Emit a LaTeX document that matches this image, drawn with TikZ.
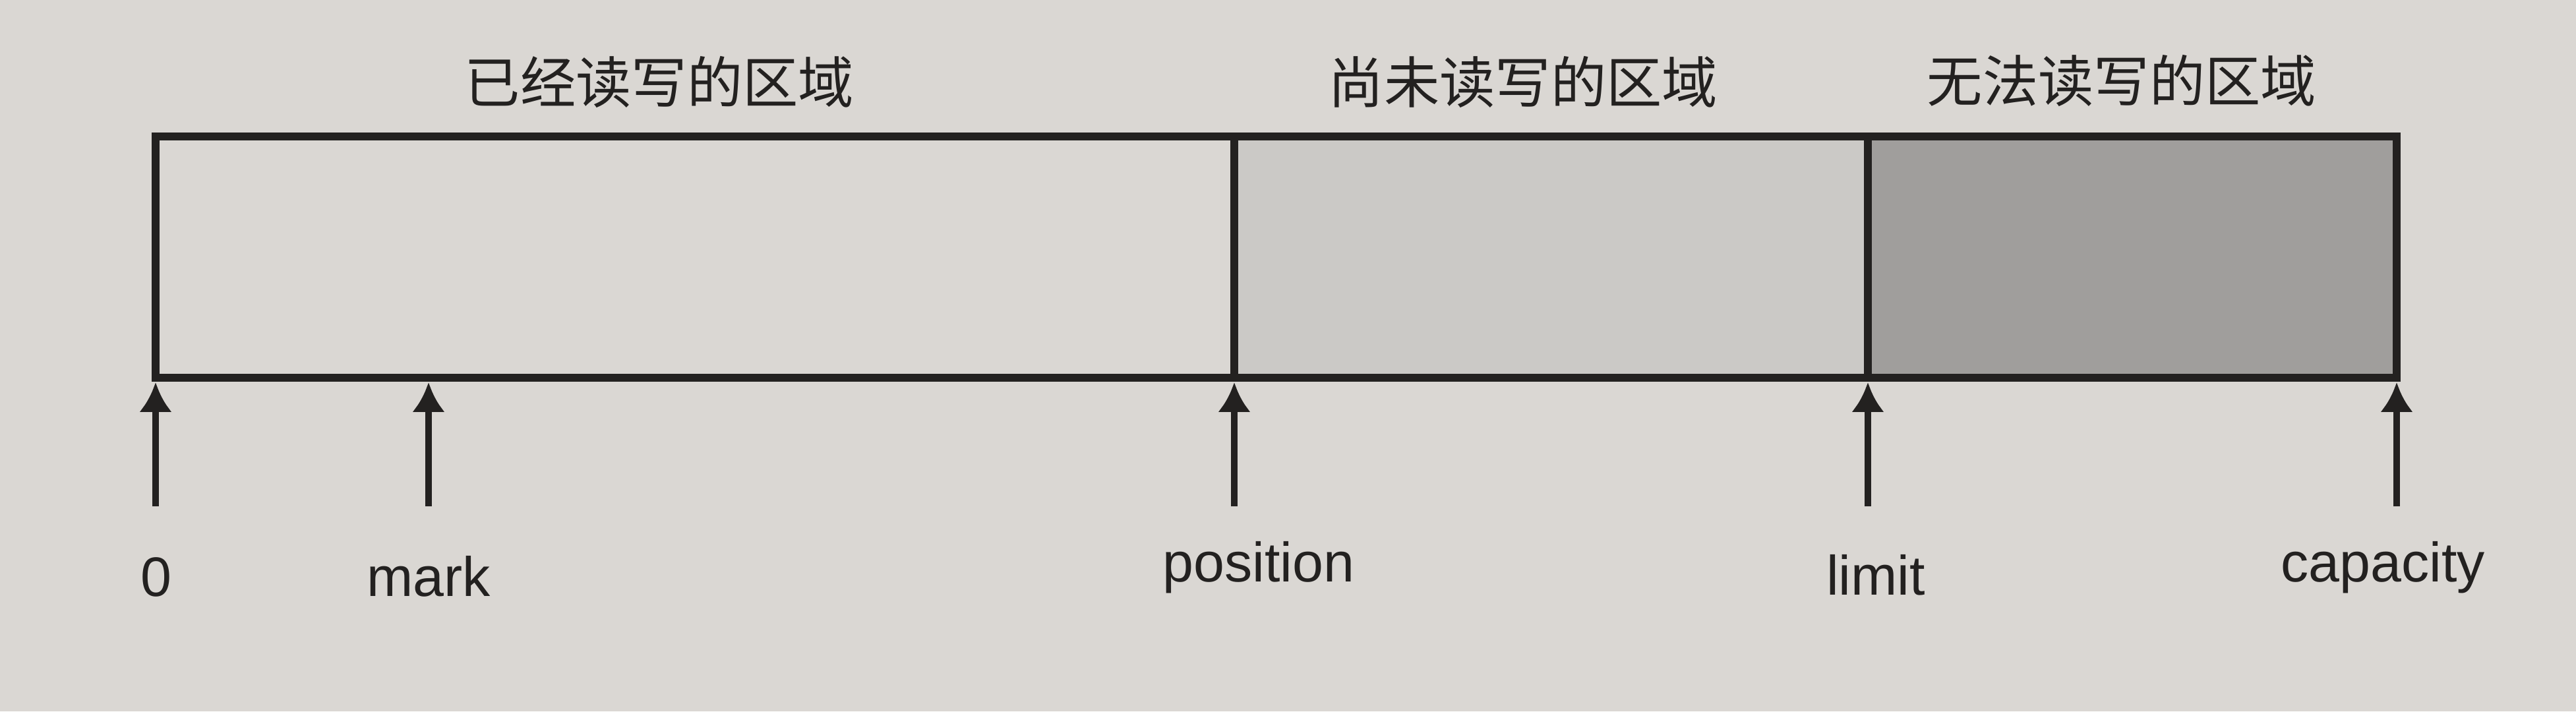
\documentclass[tikz,border=0pt]{standalone}
\usepackage{fontspec}
\setmainfont{Liberation Sans}
\newfontfamily\cjk{Noto Sans CJK SC}
\usetikzlibrary{arrows.meta, positioning}
\definecolor{paper_gray}{RGB}{218, 215, 211}
\definecolor{unread_gray}{RGB}{203, 201, 198}
\definecolor{blocked_gray}{RGB}{160, 158, 156}
\definecolor{ink_black}{RGB}{35, 33, 32}
\tikzset{
    region_box/.style={
        draw=ink_black,
        line width=3.2pt,
        minimum height=3.66cm,
        inner sep=0pt,
        outer sep=0pt
    },
    region_title/.style={
        text=ink_black,
        font=\cjk\fontsize{24}{28}\selectfont
    },
    pointer_arrow/.style={
        -{Latex[length=4.5mm,width=5mm]},
        line width=2.8pt,
        draw=ink_black,
        shorten >=0.07cm
    },
    pointer_label/.style={
        anchor=base,
        text=ink_black,
        font=\fontsize{24}{28}\selectfont
    }
}
\begin{document}
\begin{tikzpicture}

% Paper background
\fill[paper_gray] (0,0) rectangle (39.07,10.79);
\useasboundingbox (0,0) rectangle (39.07,10.79);

% Buffer regions
\node[region_box, fill=paper_gray, minimum width=16.36cm, anchor=south west] (written_area) at (2.36,5.06) {};
\node[region_box, fill=unread_gray, minimum width=9.61cm, right=0pt of written_area] (unread_area) {};
\node[region_box, fill=blocked_gray, minimum width=8.02cm, right=0pt of unread_area] (blocked_area) {};

% Region titles
\node[region_title] (written_title) at (10.00,9.55) {已经读写的区域};
\node[region_title] (unread_title) at (23.10,9.55) {尚未读写的区域};
\node[region_title] (blocked_title) at (32.18,9.57) {无法读写的区域};

% Pointer tails
\coordinate (zero_tail) at (2.36,3.11);
\coordinate (mark_tail) at (6.50,3.11);
\coordinate (position_tail) at (18.72,3.11);
\coordinate (limit_tail) at (28.33,3.11);
\coordinate (capacity_tail) at (36.35,3.11);

% Pointer arrows
\foreach \ptr in {zero, mark, position, limit, capacity} {
    \draw[pointer_arrow] (\ptr_tail) -- (\ptr_tail |- written_area.south);
}

% Pointer labels
\node[pointer_label] (zero_label) at (2.37,1.75) {0};
\node[pointer_label] (mark_label) at (6.50,1.74) {mark};
\node[pointer_label] (position_label) at (19.09,1.96) {position};
\node[pointer_label] (limit_label) at (28.45,1.77) {limit};
\node[pointer_label] (capacity_label) at (36.14,1.97) {capacity};

\end{tikzpicture}
\end{document}
